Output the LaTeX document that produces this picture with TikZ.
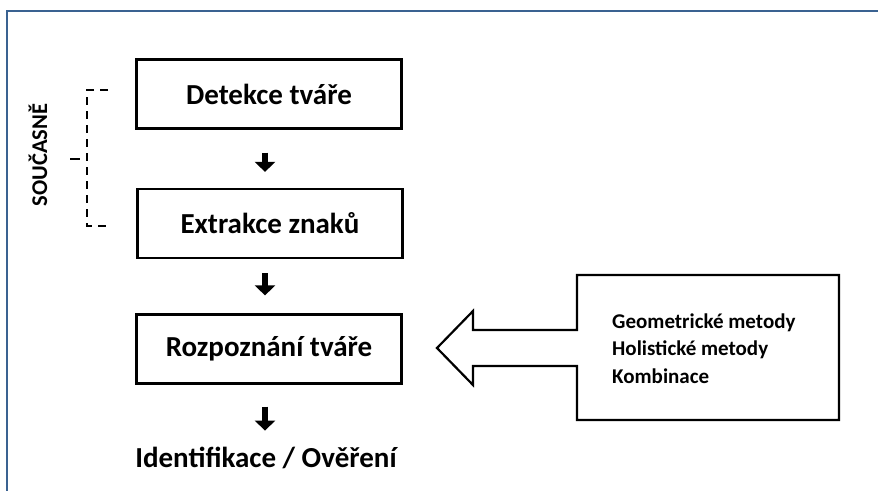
\documentclass[tikz,border=0pt]{standalone}
\usepackage{fontspec}
\setmainfont{Carlito}
\usetikzlibrary{arrows.meta}
\definecolor{framecol}{RGB}{58,98,145}
\tikzset{
  stagebox/.style={draw=black, line width=2.2pt, minimum width=265pt, minimum height=69pt, inner sep=0pt, font=\fontsize{29}{31}\selectfont\bfseries},
  downarr/.style={line width=6.5pt, -{Triangle[length=10pt,width=20pt]}},
  methtext/.style={anchor=base west, inner sep=0pt, font=\fontsize{21}{24}\selectfont\bfseries},
  outline/.style={draw=black, line width=2.2pt, line join=miter},
  dashbr/.style={draw=black, line width=1.8pt, dash pattern=on 8pt off 6pt},
}
\begin{document}
\begin{tikzpicture}[x=1pt,y=-1pt]
\useasboundingbox (0,0) rectangle (878,490);
\fill[white] (0,0) rectangle (878,490);
% frame
\draw[framecol, line width=2.5pt] (890,11) -- (7,11) -- (7,500);
% stages
\node[stagebox] (det) at (269,94) {Detekce tváře};
\node[stagebox] (ext) at (270,223.5) {Extrakce znaků};
\node[stagebox] (rec) at (269,349) {Rozpoznání tváře};
\node[anchor=base, inner sep=0pt, font=\fontsize{29}{31}\selectfont\bfseries] (idv) at (266,467) {Identifikace / Ověření};
% down arrows
\draw[downarr] ([xshift=-4pt,yshift=-23pt]det.south) -- ([xshift=-5pt,yshift=16pt]ext.north);
\draw[downarr] ([xshift=-5pt,yshift=-14pt]ext.south) -- ([xshift=-4pt,yshift=18pt]rec.north);
\draw[downarr] ([xshift=-4pt,yshift=-22pt]rec.south) -- ([yshift=-46pt,xshift=-4pt]rec.south);
% methods box with block arrow
\draw[outline] (577,275) -- (839,275) -- (839,420) -- (577,420) -- (577,366) -- (473,366) -- (473,385) -- (437,348) -- (473,311) -- (473,330) -- (577,330) -- cycle;
\node[methtext] (g1) at (612,328) {Geometrické metody};
\node[methtext] (g2) at (612,355.5) {Holistické metody};
\node[methtext] (g3) at (612,383) {Kombinace};
% simultaneous bracket
\draw[dashbr] (108,90) -- (87,90) -- (87,226) -- (108,226);
\draw[black, line width=1.8pt] (70,159) -- (80,159);
\node[rotate=90, inner sep=0pt, font=\fontsize{22.5}{24}\selectfont\bfseries] (sim) at (38,155) {SOUČASNĚ};
\end{tikzpicture}
\end{document}
